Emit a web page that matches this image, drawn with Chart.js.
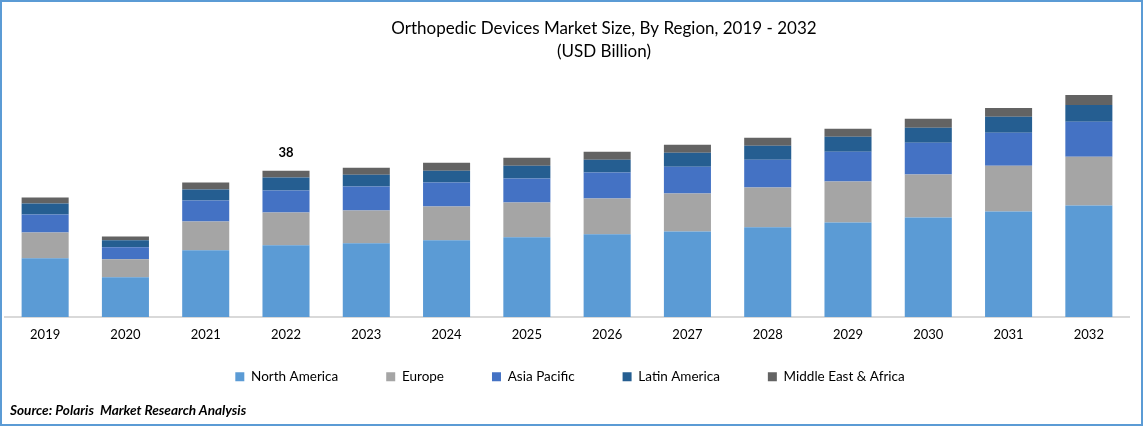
<!DOCTYPE html>
<html>
<head>
<meta charset="utf-8">
<title>Orthopedic Devices Market Size</title>
<script src="https://cdn.jsdelivr.net/npm/chart.js@4/dist/chart.umd.min.js"></script>
<style>
  html, body { margin: 0; padding: 0; background: #fff; }
  #frame { position: absolute; left: 0; top: 0; width: 1139px; height: 422px; border: 2px solid #5b9bd5; }
  #chart { position: absolute; left: 0; top: 0; }
  #source { position: absolute; left: 10px; top: 402px; font: italic bold 13.6px Lato, sans-serif; color: #000; white-space: pre; }
</style>
</head>
<body>
<canvas id="chart" width="1143" height="426" style="width:1143px;height:426px"></canvas>
<div id="frame"></div>
<div id="source">Source: Polaris  Market Research Analysis</div>
<script>
const years = ['2019', '2020', '2021', '2022', '2023', '2024', '2025', '2026', '2027', '2028', '2029', '2030', '2031', '2032'];
const northAmerica = [15.25, 10.34, 17.32, 18.61, 19.13, 19.9, 20.68, 21.46, 22.23, 23.27, 24.56, 25.85, 27.4, 28.95];
const europe = [6.72, 4.65, 7.5, 8.53, 8.53, 8.79, 9.05, 9.31, 9.82, 10.34, 10.6, 11.12, 11.89, 12.67];
const asiaPacific = [4.65, 3.1, 5.43, 5.69, 6.2, 6.2, 6.2, 6.72, 6.98, 7.24, 7.76, 8.27, 8.53, 9.05];
const latinAmerica = [2.84, 1.81, 2.84, 3.36, 3.1, 3.1, 3.36, 3.36, 3.62, 3.62, 3.88, 3.88, 4.14, 4.39];
const middleEastAfrica = [1.55, 1.03, 1.81, 1.81, 1.81, 2.07, 2.07, 2.07, 2.07, 2.07, 2.07, 2.33, 2.33, 2.59];
const labelledYear = '2022';
const labelledValue = '38';

const fontFamily = 'Lato, sans-serif';

function makeSeries(label, data, color) {
  return { label, data, backgroundColor: color, barPercentage: 0.586, categoryPercentage: 1 };
}

// writes the single total that the original shows above one bar,
// pulls the legend up (its big item padding also adds empty space above it)
// and moves title and legend to where the original has them
const chartExtras = {
  id: 'chartExtras',
  afterLayout(chart) {
    const { legend, titleBlock, chartArea } = chart;
    const shift = legend.top - chartArea.bottom - 5;
    legend.top -= shift;
    legend.bottom -= shift;
    legend.left += 3;
    legend.right += 3;
    titleBlock.left += 37;
    titleBlock.right += 37;
  },
  afterDatasetsDraw(chart) {
    const i = years.indexOf(labelledYear);
    const total = chart.data.datasets.reduce((sum, d) => sum + d.data[i], 0);
    const ctx = chart.ctx;
    ctx.save();
    ctx.font = 'bold 13px ' + fontFamily;
    ctx.fillStyle = '#000';
    ctx.textAlign = 'center';
    ctx.textBaseline = 'middle';
    ctx.fillText(labelledValue, chart.scales.x.getPixelForValue(i), chart.scales.y.getPixelForValue(total) - 18);
    ctx.restore();
  }
};

new Chart(document.getElementById('chart'), {
  type: 'bar',
  data: {
    labels: years,
    datasets: [
      makeSeries('North America', northAmerica, '#5b9bd5'),
      makeSeries('Europe', europe, '#a5a5a5'),
      makeSeries('Asia Pacific', asiaPacific, '#4472c4'),
      makeSeries('Latin America', latinAmerica, '#255e91'),
      makeSeries('Middle East & Africa', middleEastAfrica, '#636363')
    ]
  },
  options: {
    responsive: false,
    animation: false,
    layout: { padding: { left: 5, right: 14, top: 0, bottom: 7.5 } },
    scales: {
      x: {
        stacked: true,
        afterFit(scale) { scale.height = 30; },
        grid: { display: false, drawTicks: false },
        border: { color: '#d9d9d9', width: 2 },
        ticks: { color: '#000', padding: 10, maxRotation: 0, font: { family: fontFamily, size: 13 } }
      },
      y: {
        stacked: true,
        display: false,
        min: 0,
        max: 60
      }
    },
    plugins: {
      title: {
        display: true,
        text: ['Orthopedic Devices Market Size, By Region, 2019 - 2032', '(USD Billion)'],
        color: '#000',
        font: { family: fontFamily, size: 17, weight: 'normal', lineHeight: 1.35 },
        padding: { top: 17, bottom: 23 }
      },
      legend: {
        position: 'bottom',
        labels: {
          color: '#000',
          boxWidth: 9,
          boxHeight: 9,
          padding: 48,
          font: { family: fontFamily, size: 13.5 }
        }
      },
      tooltip: { enabled: false }
    }
  },
  plugins: [chartExtras]
});
</script>
</body>
</html>
